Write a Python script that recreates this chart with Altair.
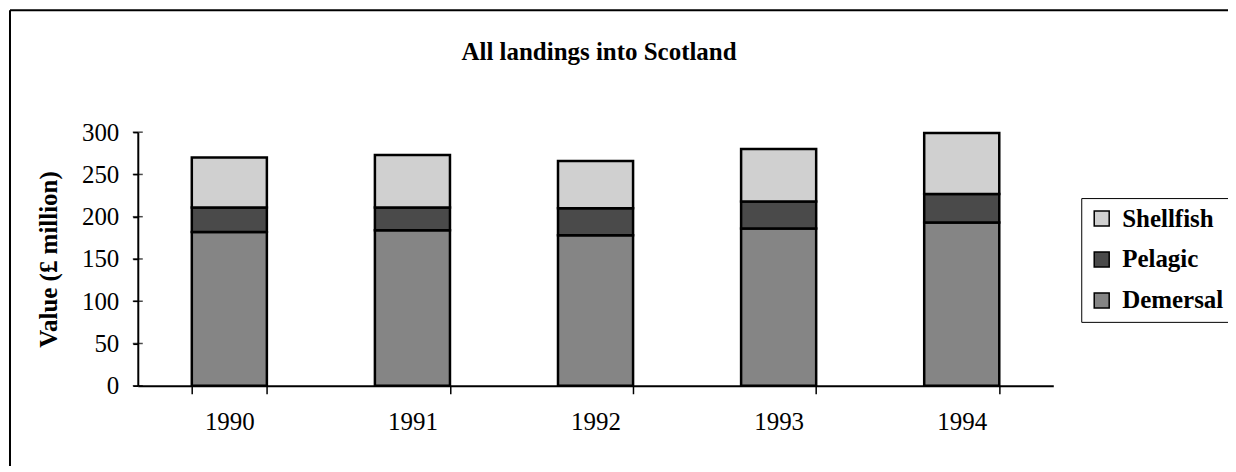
import altair as alt
import pandas as pd

years = ["1990", "1991", "1992", "1993", "1994"]
demersal = [182, 184, 178, 186, 193]
pelagic = [29, 27, 32, 32, 34]
shellfish = [59, 62, 56, 62, 72]
y_ticks = [0, 50, 100, 150, 200, 250, 300]
chart_title = "All landings into Scotland"

series_names = ["Shellfish", "Pelagic", "Demersal"]
series_colors = ["#d0d0d0", "#4a4a4a", "#858585"]
stack_rank = {"Demersal": 0, "Pelagic": 1, "Shellfish": 2}

rows = []
for i, y in enumerate(years):
    for name, vals in (("Demersal", demersal), ("Pelagic", pelagic), ("Shellfish", shellfish)):
        rows.append({"Year": y, "Type": name, "Value": vals[i], "rank": stack_rank[name]})
df = pd.DataFrame(rows)
tick_df = pd.DataFrame({"t": y_ticks})
frame_df = pd.DataFrame({"d": [0]})
title_df = pd.DataFrame({"label": [chart_title]})

FONT = "Liberation Serif"

bars = alt.Chart(df).mark_bar(stroke="black", strokeWidth=2.5).encode(
    x=alt.X("Year:N", sort=years,
            scale=alt.Scale(paddingInner=0.59, paddingOuter=0.295),
            axis=alt.Axis(title=None, labelAngle=0, tickBand="extent", tickSize=8,
                          labelPadding=16, labelFontSize=25, labelFont=FONT,
                          labelColor="black", domainColor="black", domainWidth=2,
                          tickColor="black", tickWidth=1.5)),
    y=alt.Y("Value:Q", stack="zero",
            scale=alt.Scale(domain=[0, 300], nice=False),
            axis=alt.Axis(values=y_ticks, title="Value (£ million)", grid=False,
                          tickSize=5, labelPadding=14, labelFontSize=25, labelFont=FONT,
                          labelColor="black", domainColor="black", domainWidth=2,
                          tickColor="black", tickWidth=1.5,
                          titleFont=FONT, titleFontSize=25, titleFontWeight="bold",
                          titleColor="black", titlePadding=20)),
    color=alt.Color("Type:N",
                    scale=alt.Scale(domain=series_names, range=series_colors),
                    legend=alt.Legend(title=None, orient="none", legendX=945, legendY=66,
                                      symbolType="square", symbolSize=225,
                                      symbolStrokeColor="black", symbolStrokeWidth=1.5,
                                      labelFont=FONT, labelFontSize=25, labelFontWeight="bold",
                                      labelColor="black", rowPadding=15, labelOffset=8,
                                      padding=8, strokeColor="black", fillColor="white")),
    order=alt.Order("rank:Q"),
)

inner_ticks = alt.Chart(tick_df).mark_tick(color="black", thickness=1.5, size=10).encode(
    y=alt.Y("t:Q"),
    x=alt.value(0),
)

title_text = alt.Chart(title_df).mark_text(
    font=FONT, fontSize=25, fontWeight="bold", color="black",
    align="center", baseline="middle"
).encode(text="label:N", x=alt.value(462), y=alt.value(-80))

frame_left = alt.Chart(frame_df).mark_rule(color="black", strokeWidth=2).encode(
    x=alt.value(-128), y=alt.value(-122), y2=alt.value(400)
)
frame_top = alt.Chart(frame_df).mark_rule(color="black", strokeWidth=2).encode(
    x=alt.value(-128), x2=alt.value(1100), y=alt.value(-122)
)

chart = alt.layer(bars, inner_ticks, title_text, frame_left, frame_top).properties(
    width=917,
    height=254,
    background="white",
    autosize=alt.AutoSizeParams(type="none"),
    padding={"left": 130, "top": 124, "right": 175, "bottom": 80},
).configure_view(strokeWidth=0, strokeOpacity=0)

chart.save("out.html", embed_options={"renderer": "svg", "actions": False})
